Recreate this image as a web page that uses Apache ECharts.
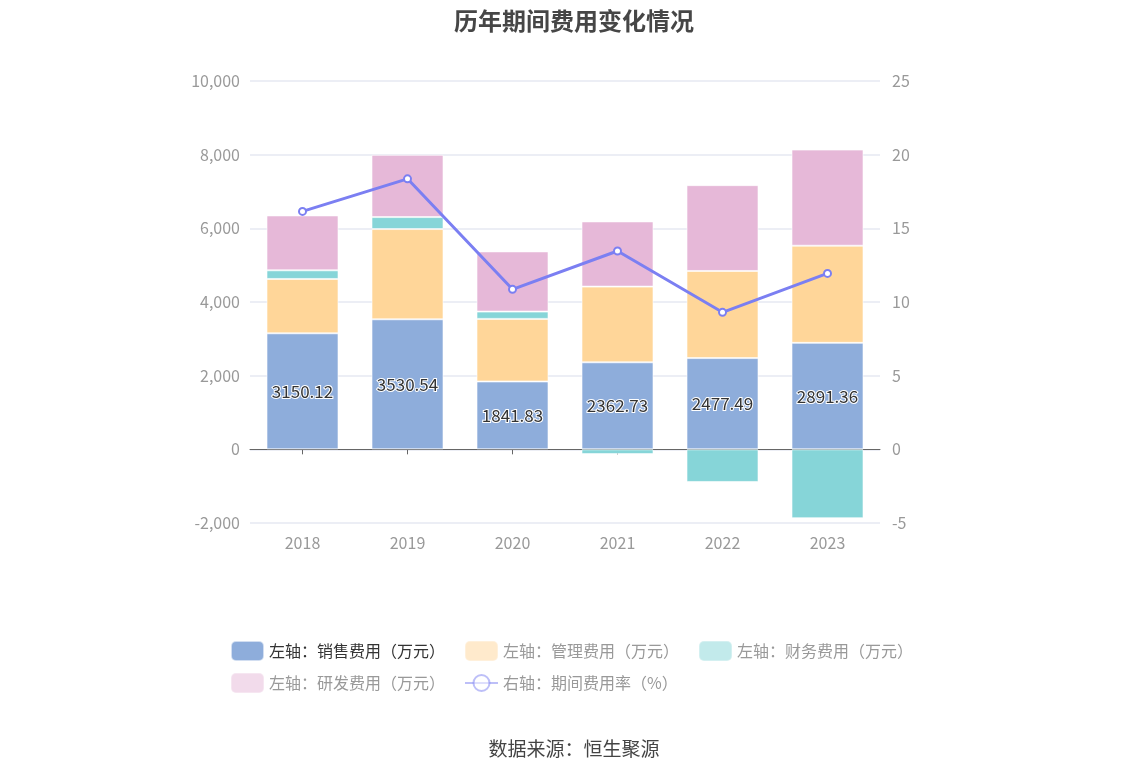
<!DOCTYPE html>
<html>
<head>
<meta charset="utf-8">
<script src="https://cdn.jsdelivr.net/npm/echarts@6/dist/echarts.min.js"></script>
<style>
html,body{margin:0;padding:0;background:#fff;}
#c{width:1148px;height:776px;}
</style>
</head>
<body>
<div id="c"></div>
<script>
var years = ['2018', '2019', '2020', '2021', '2022', '2023'];
var salesExpense = [3150.12, 3530.54, 1841.83, 2362.73, 2477.49, 2891.36];
var adminExpense = [1476, 2450, 1700, 2055, 2365, 2637];
var financeExpense = [234, 325, 198, -130, -886, -1870];
var rdExpense = [1490, 1690, 1634, 1770, 2330, 2610];
var expenseRate = [16.15, 18.36, 10.86, 13.46, 9.30, 11.94];
var leftTicks = { min: -2000, max: 10000, interval: 2000 };
var rightTicks = { min: -5, max: 25, interval: 5 };

var names = ['左轴：销售费用（万元）', '左轴：管理费用（万元）', '左轴：财务费用（万元）', '左轴：研发费用（万元）', '右轴：期间费用率（%）'];
var colors = ['#8EADDB', '#FFD699', '#86D5D8', '#E6B8D8', '#7B7FF2'];

var chart = echarts.init(document.getElementById('c'));
var font = '"Noto Sans CJK SC", "Noto Sans", sans-serif';
function legendItem(i) {
  var item = { name: names[i] };
  if (i < 4) item.icon = 'roundRect';
  if (i === 0) {
    item.textStyle = { color: '#333' };
  } else {
    item.itemStyle = { opacity: 0.5 };
    item.lineStyle = { opacity: 0.5 };
    item.textStyle = { color: '#999' };
  }
  return item;
}
var legendCommon = {
  left: 225, orient: 'horizontal', itemWidth: 33, itemHeight: 20, itemGap: 19,
  textStyle: { fontSize: 16, fontFamily: font, color: '#999' }, selectedMode: false
};
var bar = function (i, data, extra) {
  return Object.assign({
    name: names[i], type: 'bar', stack: 'cost', data: data, barWidth: 72,
    xAxisIndex: 0, yAxisIndex: 0,
    itemStyle: { color: colors[i], borderColor: 'rgba(255,255,255,0.6)', borderWidth: 1 }
  }, extra || {});
};
chart.setOption({
  animation: false,
  backgroundColor: '#fff',
  title: {
    text: '历年期间费用变化情况', left: 'center', top: 4,
    textStyle: { fontSize: 24, fontWeight: 'bold', color: '#464646', fontFamily: font }
  },
  legend: [
    Object.assign({}, legendCommon, { top: 635, data: [0, 1, 2].map(legendItem) }),
    Object.assign({}, legendCommon, { top: 667, data: [3, 4].map(legendItem) })
  ],
  graphic: [{
    type: 'text', left: 'center', top: 739,
    style: { text: '数据来源：恒生聚源', fontSize: 19, fill: '#444', fontFamily: font }
  }],
  grid: { left: 250, right: 268, top: 81, bottom: 253 },
  xAxis: [{
    type: 'category', data: years, position: 'bottom',
    axisLine: { show: false, onZero: false }, axisTick: { show: false },
    axisLabel: { fontSize: 16, color: '#999', margin: 12, fontFamily: font }
  }, {
    type: 'category', data: years, position: 'bottom',
    axisLine: { show: true, onZero: true, onZeroAxisIndex: 0, lineStyle: { color: '#666', width: 1 } },
    axisTick: { show: true, alignWithLabel: true, length: 5, lineStyle: { color: '#666' } },
    axisLabel: { show: false }
  }],
  yAxis: [{
    type: 'value', min: leftTicks.min, max: leftTicks.max, interval: leftTicks.interval,
    axisLine: { show: false }, axisTick: { show: false },
    axisLabel: { fontSize: 16, color: '#999', fontFamily: font, margin: 10,
      formatter: function (v) { return v.toLocaleString('en-US'); } },
    splitLine: { lineStyle: { color: '#E6E8F2', width: 1.5 } }
  }, {
    type: 'value', min: rightTicks.min, max: rightTicks.max, interval: rightTicks.interval,
    axisLine: { show: false }, axisTick: { show: false },
    axisLabel: { fontSize: 16, color: '#999', fontFamily: font, margin: 12 },
    splitLine: { show: false }
  }],
  series: [
    bar(0, salesExpense, {
      label: { show: true, position: 'inside', fontSize: 17, color: '#333', fontFamily: font,
        textBorderColor: '#fff', textBorderWidth: 2,
        formatter: function (p) { return p.value.toFixed(2); } }
    }),
    bar(1, adminExpense),
    bar(2, financeExpense),
    bar(3, rdExpense),
    {
      name: names[4], type: 'line', data: expenseRate, xAxisIndex: 0, yAxisIndex: 1,
      symbol: 'emptyCircle', symbolSize: 7,
      lineStyle: { color: colors[4], width: 3 },
      itemStyle: { color: colors[4], borderWidth: 2 }
    }
  ]
});
</script>
</body>
</html>
